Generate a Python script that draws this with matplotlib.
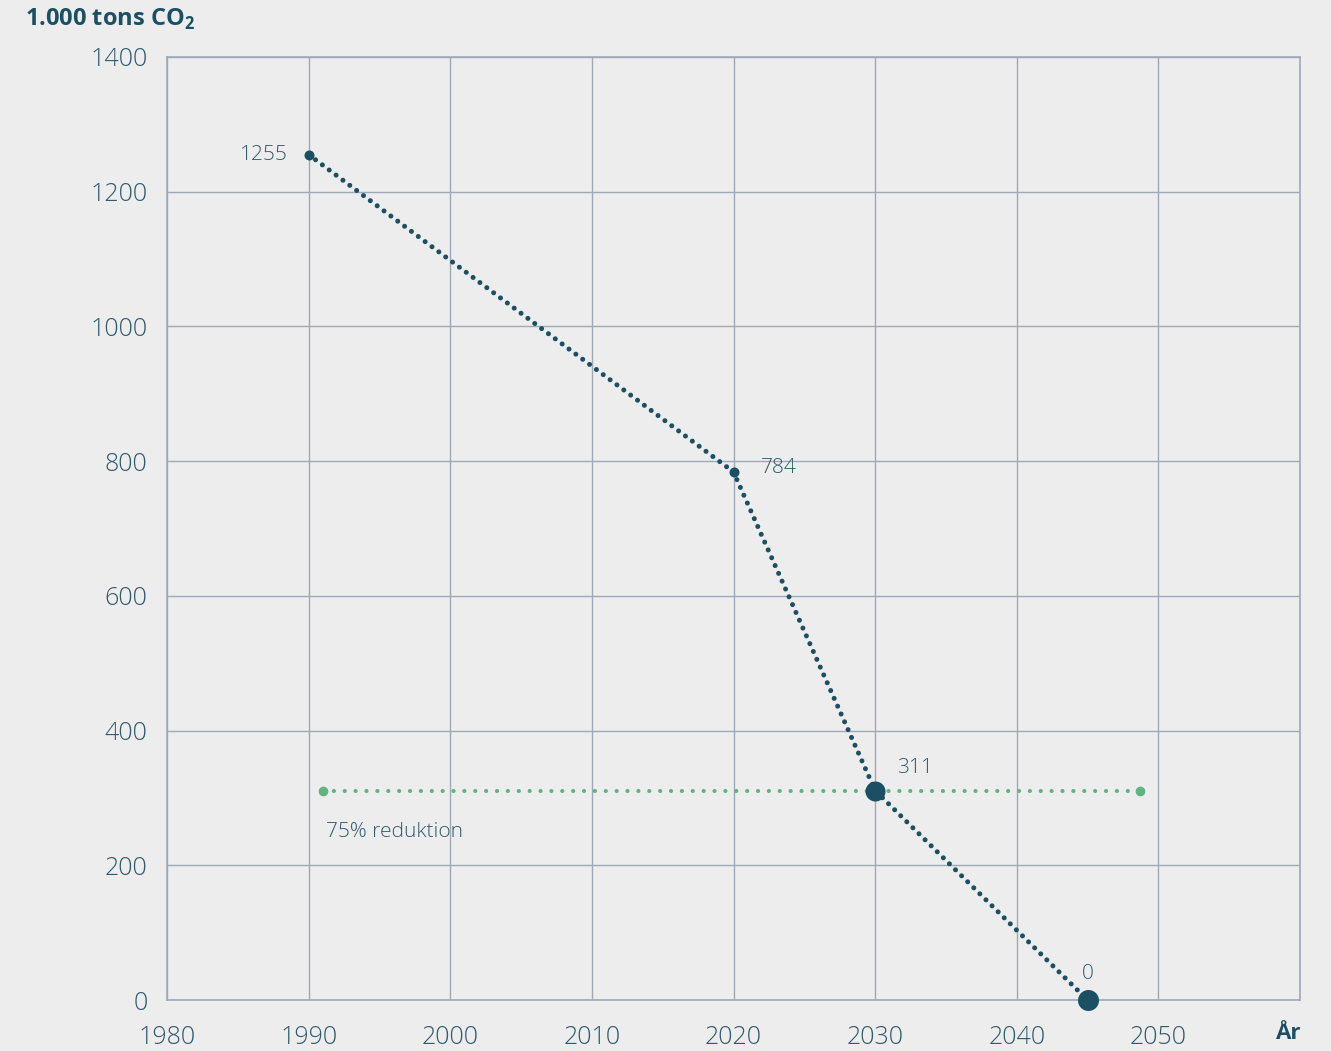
import matplotlib.pyplot as plt

plt.rcParams["font.family"] = ["Open Sans", "DejaVu Sans"]
plt.rcParams["font.weight"] = 300

# data
years = [1990, 2020, 2030, 2045]
emissions = [1255, 784, 311, 0]
point_labels = ["1255", "784", "311", "0"]
marker_sizes = [10, 10, 20, 21]

target_years = [1991, 2048.7]
target_value = [311, 311]
target_label = "75% reduktion"

x_ticks = [1980, 1990, 2000, 2010, 2020, 2030, 2040, 2050]
y_ticks = [0, 200, 400, 600, 800, 1000, 1200, 1400]

dark = "#1b4f63"
green = "#5fb47f"
gridc = "#9ea9b7"
textc = "#2f5b6d"
bg = "#ededed"

fig = plt.figure(figsize=(13.31, 10.51), dpi=100, facecolor=bg)
ax = fig.add_axes([0.1255, 0.0485, 0.8512, 0.8973], facecolor=bg)

ax.set_xlim(1980, 2060)
ax.set_ylim(0, 1400)
ax.set_xticks(x_ticks)
ax.set_yticks(y_ticks)
ax.grid(True, color=gridc, linewidth=1.0)
ax.set_axisbelow(True)
for s in ax.spines.values():
    s.set_color(gridc)
    s.set_linewidth(1.2)
ax.tick_params(length=0, labelsize=18, labelcolor=textc)
ax.tick_params(axis="x", pad=18)
ax.tick_params(axis="y", pad=14)

# target line (75% reduction)
ax.plot(target_years, target_value, color=green, linewidth=3.0,
        linestyle=(0, (0.01, 2.6)), dash_capstyle="round", zorder=3)
ax.plot(target_years, target_value, "o", color=green, markersize=7,
        markeredgewidth=0, zorder=4)
ax.annotate(target_label, (target_years[0], target_value[0]),
            xytext=(2, -30), textcoords="offset points", fontsize=15,
            color=textc, ha="left", va="center")

# emission path
ax.plot(years, emissions, color=dark, linewidth=3.6,
        linestyle=(0, (0.01, 1.7)), dash_capstyle="round", zorder=5,
        clip_on=False)
for x, y, ms in zip(years, emissions, marker_sizes):
    ax.plot(x, y, "o", color=dark, markersize=ms * 0.72,
            markeredgewidth=0, zorder=6, clip_on=False)

offsets = [(-15, 0), (20, 3), (16, 16), (0, 19)]
aligns = ["right", "left", "left", "center"]
for x, y, lab, off, ha in zip(years, emissions, point_labels, offsets, aligns):
    ax.annotate(lab, (x, y), xytext=off, textcoords="offset points",
                fontsize=15, color=textc, ha=ha, va="center")

fig.text(0.019, 0.982, "1.000 tons CO$_\\mathregular{2}$", fontsize=17,
         fontweight="bold", color=dark, ha="left", va="center")
fig.text(0.968, 0.017, "År", fontsize=16, fontweight="bold", color=dark,
         ha="center", va="center")

fig.savefig("out.png", dpi=100, facecolor=bg)
